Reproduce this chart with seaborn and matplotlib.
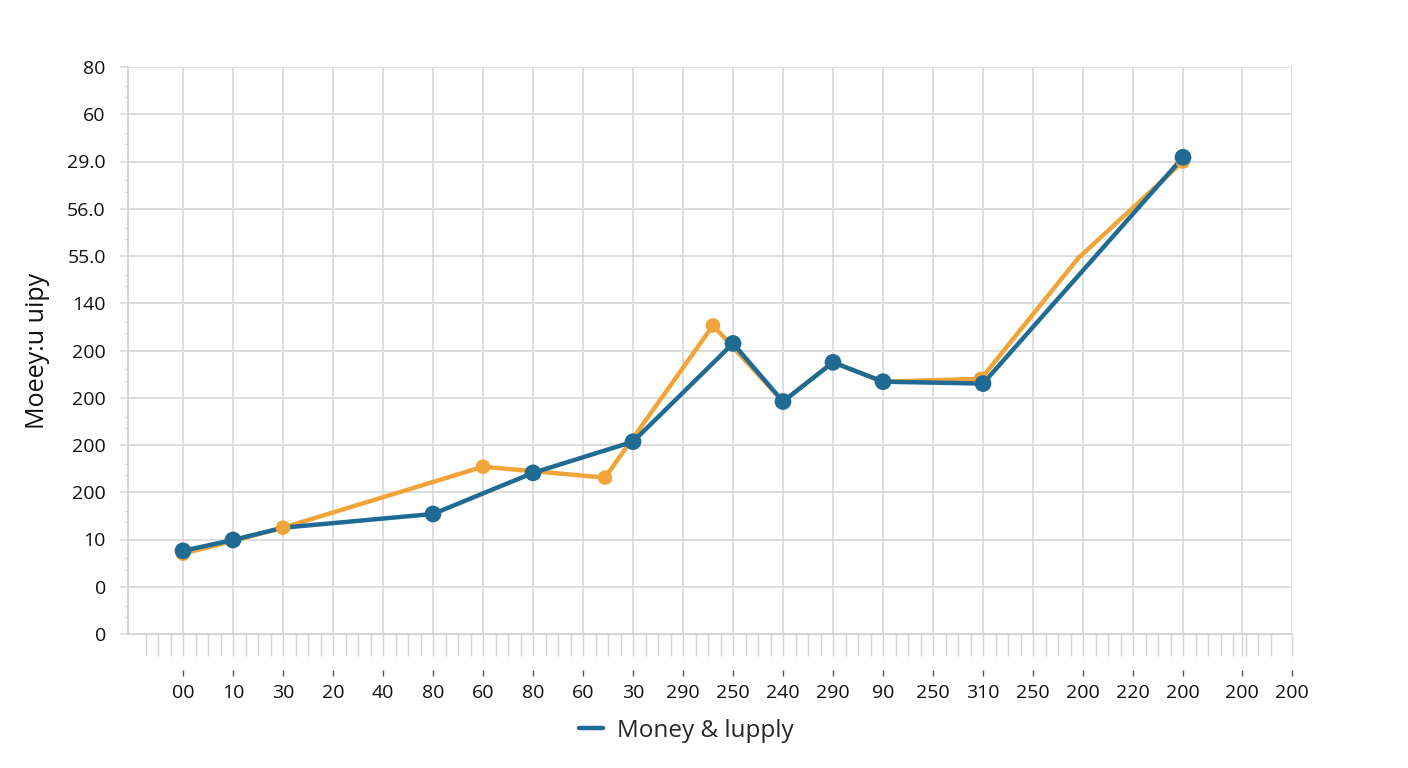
import matplotlib
matplotlib.use("Agg")
import matplotlib.pyplot as plt
import seaborn as sns
import numpy as np
import pandas as pd
from matplotlib.ticker import FixedLocator

# series values (y in gridline units, x in category-slot units)
blue_x = [0, 1, 2, 5, 7, 9, 11, 12, 13, 14, 16, 20]
blue_y = [1.76, 1.99, 2.25, 2.54, 3.41, 4.07, 6.15, 4.92, 5.75, 5.34, 5.30, 10.09]

orange_x = [0, 1, 2, 6, 8.44, 10.6, 12, 13, 14, 15.96, 17.9, 20]
orange_y = [1.70, 1.97, 2.25, 3.54, 3.31, 6.53, 4.92, 5.75, 5.34, 5.40, 7.95, 10.0]

x_labels = ["00", "10", "30", "20", "40", "80", "60", "80", "60", "30", "290", "250",
            "240", "290", "90", "250", "310", "250", "200", "220", "200", "200", "200"]
y_labels = ["0", "0", "10", "200", "200", "200", "200", "140", "55.0", "56.0", "29.0", "60", "80"]

series_name = "Money & lupply"
y_title = "Moeey:u uipy"

BLUE = "#1f6b94"
ORANGE = "#f0a43a"
GRID = "#dadada"
TEXT = "#111111"

blue = pd.DataFrame({"x": blue_x, "y": blue_y})
orange = pd.DataFrame({"x": orange_x, "y": orange_y})

sns.set_theme(style="whitegrid")
plt.rcParams["font.family"] = ["Open Sans", "DejaVu Sans"]

fig = plt.figure(figsize=(14.08, 7.68), dpi=100)
ax = fig.add_axes([128 / 1408, 1 - 634 / 768, (1292 - 128) / 1408, (634 - 67) / 768])

# lines
sns.lineplot(data=orange, x="x", y="y", color=ORANGE, lw=3.2, ax=ax, zorder=2,
             sort=False, legend=False)
sns.lineplot(data=blue, x="x", y="y", color=BLUE, lw=3.2, ax=ax, zorder=3,
             sort=False, label=series_name)

# dots (blue has no visible dot where the orange one sits on top at x=2)
sns.scatterplot(data=orange[orange["x"] != 17.9], x="x", y="y", color=ORANGE, s=110,
                edgecolor="none", ax=ax, zorder=4, legend=False)
sns.scatterplot(data=blue[blue["x"] != 2], x="x", y="y", color=BLUE, s=145,
                edgecolor="none", ax=ax, zorder=5, legend=False)

# axes limits and ticks
major_x = list(range(21)) + [21.18, 22.18]
ax.set_xlim(-1.1, 22.18)
ax.set_ylim(0, 12)
ax.set_xticks(major_x)
ax.set_xticklabels([])
ax.xaxis.set_minor_locator(FixedLocator(np.arange(-0.75, 22.0, 0.25)))
ax.set_yticks(range(13))
ax.set_yticklabels(y_labels)
minor_y = [i + f for i in range(12) for f in (0.36, 0.6)]
ax.yaxis.set_minor_locator(FixedLocator(minor_y))

ax.grid(True, which="major", color=GRID, lw=1.3)
ax.grid(False, which="minor")
ax.tick_params(axis="x", which="both", direction="out", length=16, width=1,
               color="#d2d2d2", bottom=True, labelbottom=False)
ax.tick_params(axis="y", which="major", direction="out", length=6, width=1.2,
               color=GRID, left=True, labelsize=14, labelcolor=TEXT, pad=10)
ax.tick_params(axis="y", which="minor", direction="out", length=2.5, width=1,
               color="#c8c8c8", left=True)

for side in ["top", "right"]:
    ax.spines[side].set_visible(False)
for side in ["left", "bottom"]:
    ax.spines[side].set_visible(True)
    ax.spines[side].set_color("#d2d2d2")
    ax.spines[side].set_linewidth(1.3)

# the labelled x ticks sit below the row of light ticks
sec = ax.secondary_xaxis(-36 / 567)
sec.set_xticks(major_x)
sec.set_xticklabels(x_labels)
sec.tick_params(axis="x", direction="out", length=4, width=1, color="#555555",
                labelsize=14, labelcolor=TEXT, pad=6)
sec.spines["bottom"].set_visible(False)

ax.set_xlabel("")
ax.set_ylabel(y_title, fontsize=18, color=TEXT, labelpad=12)

ax.legend(loc="center", bbox_to_anchor=(686 / 1408, 1 - 731 / 768),
          bbox_transform=fig.transFigure, frameon=False, fontsize=17.5,
          handlelength=1.0, handletextpad=0.55)

fig.savefig("out.png", dpi=100, facecolor="white")
